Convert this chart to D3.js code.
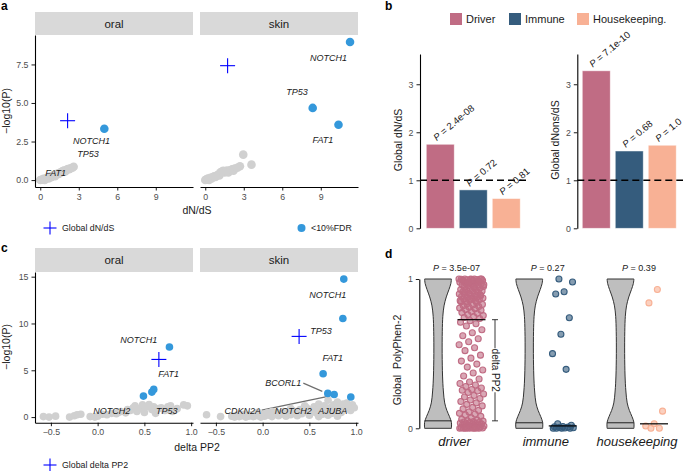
<!DOCTYPE html>
<html><head><meta charset="utf-8">
<script src="https://cdn.jsdelivr.net/npm/d3@7"></script>
<style>
body{margin:0;background:#fff;}
svg{display:block;}
</style></head><body>
<svg id="chart" width="685" height="471"></svg>
<script>
// ================= DATA =================
const facetNames = ["oral", "skin"];

// Panel a : dN/dS vs -log10(P)
const aTicksX = [0, 3, 6, 9];
const aTicksY = [0, 2.5, 5, 7.5];
const aGrayOral = [[0.0,0.0],[0.15,0.03],[0.25,0.08],[0.35,0.0],[0.45,0.12],[0.55,0.15],[0.65,0.1],[0.75,0.22],[0.85,0.18],[0.95,0.28],[1.05,0.32],[1.15,0.25],[1.25,0.38],[1.35,0.42],[1.45,0.4],[1.55,0.48],[1.65,0.52],[1.75,0.58],[1.85,0.62],[1.95,0.56],[2.05,0.66],[2.15,0.72],[2.25,0.7],[2.35,0.76],[2.5,0.8],[2.6,0.86]];
const aGraySkin = [[0.0,0.0],[0.1,0.05],[0.2,0.1],[0.3,0.0],[0.4,0.15],[0.5,0.1],[0.6,0.2],[0.7,0.25],[0.8,0.2],[0.9,0.3],[1.0,0.35],[1.1,0.3],[1.2,0.5],[1.3,0.55],[1.4,0.6],[1.5,0.5],[1.6,0.55],[1.7,0.62],[1.8,0.5],[1.9,0.6],[2.0,0.65],[2.1,0.7],[2.2,0.6],[2.3,0.75],[2.5,0.8],[2.7,0.9],[2.96,1.65],[3.6,1.0]];
const aSigOral = [[4.99,3.33]];
const aSigSkin = [[11.28,8.96],[8.37,4.68],[10.38,3.59]];
const aGlobalOral = [2.13,3.85];
const aGlobalSkin = [1.74,7.42];
const aLabelsOral = [["NOTCH1",4.0,2.53],["TP53",3.72,1.69],["FAT1",1.2,0.45]];
const aLabelsSkin = [["NOTCH1",9.61,7.94],["TP53",7.15,5.71],["FAT1",9.17,2.6]];

// Panel b : global dN/dS bars
const bGroups = ["Driver", "Immune", "Housekeeping."];
const bColors = ["#C06C84", "#355C7D", "#F8B195"];
const bTicksY = [0, 1, 2, 3];
const bDnds = [1.75, 0.80, 0.62];
const bDnons = [3.28, 1.61, 1.73];
const bPDnds = ["2.4e-08", "0.72", "0.81"];
const bPDnons = ["7.1e-10", "0.68", "1.0"];

// Panel c : delta PP2 vs -log10(P)
const cTicksX = [-0.5, 0, 0.5, 1.0];
const cTicksY = [0, 5, 10, 15];
const cGrayOral = [[-0.58,0.05],[-0.52,0.0],[-0.45,0.1],[-0.30,0.0],[-0.25,0.15],[-0.22,0.25],[-0.18,0.3],[-0.08,0.05],[-0.03,0.0],[0.0,0.1],[0.05,0.3],[0.1,0.25],[0.15,0.4],[0.2,0.35],[0.22,0.5],[0.25,0.6],[0.3,0.45],[0.32,0.8],[0.35,0.7],[0.38,1.0],[0.4,1.2],[0.42,0.6],[0.45,0.9],[0.48,1.3],[0.5,0.5],[0.52,1.1],[0.55,1.35],[0.58,0.8],[0.6,1.1],[0.62,0.4],[0.65,0.9],[0.68,1.0],[0.72,0.7],[0.75,1.1],[0.78,1.2],[0.8,0.6],[0.85,0.9],[0.92,1.3],[0.96,1.2]];
const cGraySkin = [[-0.60,0.25],[-0.45,0.05],[-0.33,0.1],[-0.3,0.0],[-0.28,0.2],[-0.25,0.05],[-0.22,0.15],[-0.2,0.3],[-0.18,0.0],[-0.15,0.1],[-0.12,0.25],[-0.1,0.05],[-0.08,0.35],[-0.05,0.15],[-0.02,0.0],[0.0,0.3],[0.02,0.1],[0.05,0.45],[0.07,0.2],[0.1,0.05],[0.12,0.35],[0.15,0.5],[0.17,0.15],[0.2,0.3],[0.22,0.6],[0.25,0.1],[0.27,0.45],[0.3,0.25],[0.32,0.7],[0.35,0.5],[0.37,0.15],[0.4,0.8],[0.42,0.35],[0.45,0.6],[0.47,1.0],[0.5,0.2],[0.52,0.75],[0.55,1.1],[0.57,0.45],[0.6,1.4],[0.62,0.9],[0.64,0.3],[0.66,1.2],[0.68,0.6],[0.7,1.8],[0.72,1.0],[0.74,0.4],[0.76,1.3],[0.78,0.8],[0.8,1.6],[0.82,1.1],[0.84,0.5],[0.86,1.4],[0.88,0.9],[0.9,1.5],[0.92,1.2],[0.94,0.7],[0.96,1.3],[0.98,1.0],[0.3,0.9],[0.1,0.6],[-0.05,0.5],[0.45,1.2],[0.6,0.05],[0.8,0.1],[0.7,0.2]];
const cSigOral = [[0.768,7.48],[0.49,2.24],[0.58,2.67],[0.6,2.96]];
const cSigSkin = [[0.868,14.74],[0.858,10.54],[0.647,4.63],[0.697,2.53],[0.765,2.42],[0.943,2.14]];
const cGlobalOral = [0.655,6.16];
const cGlobalSkin = [0.39,8.62];
const cLabelsOral = [["NOTCH1",0.44,8.23],["FAT1",0.76,4.6],["NOTCH2",0.15,0.67],["TP53",0.74,0.67]];
const cLabelsSkin = [["NOTCH1",0.696,13.03],["TP53",0.625,9.19],["FAT1",0.75,6.34],["BCORL1",0.221,3.63],["CDKN2A",-0.213,0.67],["NOTCH2",0.328,0.67],["AJUBA",0.75,0.67]];
const cSegsSkin = [[0.435,3.63,0.638,2.75],[-0.01,0.75,0.713,2.24]];

// Panel d : Global PolyPhen-2
const dGroups = ["driver", "immune", "housekeeping"];
const dPvals = ["3.5e-07", "0.27", "0.39"];
const dViolin = [[0,1],[0.04,1],[0.08,0.85],[0.12,0.66],[0.17,0.5],[0.25,0.4],[0.35,0.34],[0.5,0.31],[0.65,0.32],[0.75,0.36],[0.82,0.45],[0.88,0.62],[0.93,0.82],[0.97,0.96],[1,1]];
const dViolinLine = [0.05, 0.037, 0.037];
const dDriver = [1.0,1.0,1.0,1.0,0.999,0.998,0.997,0.995,0.99,0.99,0.988,0.985,0.98,0.978,0.975,0.97,0.968,0.965,0.96,0.958,0.955,0.95,0.948,0.945,0.94,0.935,0.93,0.928,0.925,0.92,0.918,0.915,0.91,0.905,0.9,0.898,0.895,0.89,0.887,0.883,0.88,0.877,0.873,0.87,0.866,0.862,0.858,0.855,0.852,0.85,1.0,0.996,0.992,0.986,0.976,0.962,0.943,0.912,0.893,0.868,
  0.848,0.842,0.835,0.83,0.826,0.82,0.815,0.81,0.805,0.8,0.795,0.79,0.782,0.776,0.77,0.762,0.755,0.748,0.742,0.735,
  0.72,0.71,0.7,0.685,0.66,0.64,0.62,0.6,0.58,0.56,0.54,0.52,
  0.49,0.47,0.45,0.43,0.41,0.39,0.37,0.35,0.33,0.31,
  0.3,0.29,0.28,0.27,0.26,0.255,0.25,0.24,0.23,0.22,0.21,0.2,0.19,0.18,0.17,0.16,0.15,0.14,0.13,0.12,0.11,0.1,0.095,0.09,0.08,0.07,0.06,0.055,
  0.05,0.048,0.045,0.042,0.04,0.038,0.035,0.032,0.03,0.028,0.025,0.022,0.02,0.018,0.015,0.012,0.01,0.008,0.006,0.005,0.004,0.003,0.002,0.001,0,0,0,0,0,0];
const dImmune = [1.0,0.98,0.915,0.90,0.74,0.63,0.50,0.395,0.03,0.02,0.012,0.01,0.008,0.006,0.004,0.002,0,0,0,0];
const dHousekeeping = [0.93,0.84,0.115,0.03,0.015,0.0,0.0];

// ================= DRAW =================
const FONT = '"Liberation Sans", Arial, Helvetica, sans-serif';
const svg = d3.select("#chart").attr("font-family", FONT);
svg.append("rect").attr("width", 685).attr("height", 471).attr("fill", "#fff");

function styleAxis(g, fs) {
  g.attr("font-family", FONT).attr("font-size", fs || 8.8);
  g.select(".domain").attr("stroke", "#000").attr("stroke-width", 1.1);
  g.selectAll(".tick line").attr("stroke", "#000").attr("stroke-width", 0.9);
  g.selectAll(".tick text").attr("fill", "#4d4d4d");
}
function cross(g, cx, cy, s) {
  g.append("line").attr("x1", cx - s).attr("x2", cx + s).attr("y1", cy).attr("y2", cy).attr("stroke", "#0000ff").attr("stroke-width", 1.1);
  g.append("line").attr("x1", cx).attr("x2", cx).attr("y1", cy - s).attr("y2", cy + s).attr("stroke", "#0000ff").attr("stroke-width", 1.1);
}

function facet(cfg) {
  const x = d3.scaleLinear().domain(cfg.xDomain).range([cfg.left, cfg.right]);
  const y = cfg.y;
  const bottom = y.range()[0];
  const g = svg.append("g");
  g.append("rect").attr("x", cfg.left).attr("y", cfg.stripTop).attr("width", cfg.right - cfg.left)
    .attr("height", cfg.stripH).attr("fill", "#d9d9d9");
  g.append("text").attr("x", (cfg.left + cfg.right) / 2).attr("y", cfg.stripTop + cfg.stripH / 2)
    .attr("dy", "0.36em").attr("text-anchor", "middle").attr("font-size", 11.5).attr("fill", "#1a1a1a").text(cfg.name);
  (cfg.segs || []).forEach(s => {
    g.append("line").attr("x1", x(s[0])).attr("y1", y(s[1])).attr("x2", x(s[2])).attr("y2", y(s[3]))
      .attr("stroke", "#6e6e6e").attr("stroke-width", 1.2);
  });
  g.selectAll(null).data(cfg.gray).join("circle").attr("cx", d => x(d[0])).attr("cy", d => y(d[1]))
    .attr("r", cfg.r).attr("fill", "#d0d0d0");
  g.selectAll(null).data(cfg.sig).join("circle").attr("cx", d => x(d[0])).attr("cy", d => y(d[1]))
    .attr("r", cfg.r).attr("fill", "#3498db");
  cross(g, x(cfg.glob[0]), y(cfg.glob[1]), 7.5);
  g.selectAll(null).data(cfg.labels).join("text").attr("x", d => x(d[1])).attr("y", d => y(d[2]))
    .attr("dy", "0.35em").attr("text-anchor", "middle").attr("font-size", 9).attr("font-style", "italic")
    .attr("fill", "#1a1a1a").text(d => d[0]);
  const ax = g.append("g").attr("transform", `translate(0,${bottom})`)
    .call(d3.axisBottom(x).tickValues(cfg.xTicks).tickFormat(cfg.xFmt).tickSize(3.5).tickSizeOuter(0));
  styleAxis(ax);
  if (cfg.showY) {
    const ay = g.append("g").attr("transform", `translate(${cfg.left},0)`)
      .call(d3.axisLeft(y).tickValues(cfg.yTicks).tickFormat(cfg.yFmt).tickSize(3.5).tickSizeOuter(0));
    styleAxis(ay);
  }
}

// ---- Panel a ----
const aY = d3.scaleLinear().domain([-0.45, 9.41]).range([187, 35]);
const aXDom = [-0.41, 11.9];
const aFmtX = d3.format("d"), aFmtY = d3.format(".1f");
facet({name: facetNames[0], left: 35, right: 193, stripTop: 12, stripH: 23, y: aY, xDomain: aXDom, xTicks: aTicksX, xFmt: aFmtX,
  showY: true, yTicks: aTicksY, yFmt: aFmtY, gray: aGrayOral, sig: aSigOral, glob: aGlobalOral, labels: aLabelsOral, r: 4.3});
facet({name: facetNames[1], left: 200, right: 358, stripTop: 12, stripH: 23, y: aY, xDomain: aXDom, xTicks: aTicksX, xFmt: aFmtX,
  showY: false, gray: aGraySkin, sig: aSigSkin, glob: aGlobalSkin, labels: aLabelsSkin, r: 4.3});
svg.append("text").attr("transform", "translate(9.5,111) rotate(-90)").attr("text-anchor", "middle")
  .attr("font-size", 10.5).attr("fill", "#1a1a1a").text("\u2212log10(P)");
svg.append("text").attr("x", 197).attr("y", 214).attr("text-anchor", "middle").attr("font-size", 10.5).attr("fill", "#1a1a1a").text("dN/dS");
cross(svg, 50, 228, 6.5);
svg.append("text").attr("x", 62).attr("y", 228).attr("dy", "0.35em").attr("font-size", 8.8).attr("fill", "#1a1a1a").text("Global dN/dS");
svg.append("circle").attr("cx", 301.5).attr("cy", 228).attr("r", 4).attr("fill", "#3498db");
svg.append("text").attr("x", 311).attr("y", 228).attr("dy", "0.35em").attr("font-size", 8.8).attr("fill", "#1a1a1a").text("<10%FDR");

// ---- Panel c ----
const cY = d3.scaleLinear().domain([-0.6, 15.5]).range([422.7, 272]);
const cXDom = [-0.67, 1.02];
const cFmtX = d3.format(".1f"), cFmtY = d3.format("d");
facet({name: facetNames[0], left: 35, right: 193, stripTop: 248, stripH: 24, y: cY, xDomain: cXDom, xTicks: cTicksX, xFmt: cFmtX,
  showY: true, yTicks: cTicksY, yFmt: cFmtY, gray: cGrayOral, sig: cSigOral, glob: cGlobalOral, labels: cLabelsOral, r: 3.8});
facet({name: facetNames[1], left: 200, right: 358, stripTop: 248, stripH: 24, y: cY, xDomain: cXDom, xTicks: cTicksX, xFmt: cFmtX,
  showY: false, gray: cGraySkin, sig: cSigSkin, glob: cGlobalSkin, labels: cLabelsSkin, segs: cSegsSkin, r: 3.8});
svg.append("text").attr("transform", "translate(9.5,347) rotate(-90)").attr("text-anchor", "middle")
  .attr("font-size", 10.5).attr("fill", "#1a1a1a").text("\u2212log10(P)");
svg.append("text").attr("x", 197).attr("y", 451).attr("text-anchor", "middle").attr("font-size", 10.5).attr("fill", "#1a1a1a").text("delta PP2");
cross(svg, 50, 465, 6.5);
svg.append("text").attr("x", 62).attr("y", 465).attr("dy", "0.35em").attr("font-size", 8.8).attr("fill", "#1a1a1a").text("Global delta PP2");

// ---- Panel b ----
const bY = d3.scaleLinear().domain([0, 3.63]).range([228.3, 54]);
function barPanel(vals, pvals, axisX, r0, r1, title) {
  const x = d3.scaleBand().domain(bGroups).range([r0, r1]).paddingInner(0.152).paddingOuter(0.084);
  const g = svg.append("g");
  g.selectAll(null).data(bGroups).join("rect").attr("x", d => x(d)).attr("width", x.bandwidth())
    .attr("y", (d, i) => bY(vals[i])).attr("height", (d, i) => bY(0) - bY(vals[i]))
    .attr("fill", (d, i) => bColors[i]).attr("stroke", "#ffffff").attr("stroke-opacity", 0.6).attr("stroke-width", 0.8);
  g.append("line").attr("x1", axisX).attr("x2", r1 + 4).attr("y1", bY(1)).attr("y2", bY(1))
    .attr("stroke", "#000").attr("stroke-width", 1.5).attr("stroke-dasharray", "7,4");
  bGroups.forEach((d, i) => {
    const t = g.append("text").attr("transform", `translate(${x(d) + x.bandwidth() / 2 - 3.5},${bY(vals[i]) - 3}) rotate(-40)`)
      .attr("font-size", 9.6).attr("fill", "#1a1a1a");
    t.append("tspan").attr("font-style", "italic").text("P");
    t.append("tspan").text(" = " + pvals[i]);
  });
  const ay = g.append("g").attr("transform", `translate(${axisX},0)`)
    .call(d3.axisLeft(bY).tickValues(bTicksY).tickFormat(d3.format("d")).tickSize(3.5).tickSizeOuter(0));
  styleAxis(ay);
  g.append("text").attr("transform", `translate(${axisX - 18},140) rotate(-90)`).attr("text-anchor", "middle")
    .attr("font-size", 10.5).attr("fill", "#1a1a1a").text(title);
}
barPanel(bDnds, bPDnds, 420, 423.5, 523, "Global dN/dS");
barPanel(bDnons, bPDnons, 577.3, 579.5, 679, "Global dNons/dS");
// legend
const legX = [450, 509, 577];
bGroups.forEach((d, i) => {
  svg.append("rect").attr("x", legX[i]).attr("y", 13).attr("width", 12).attr("height", 12).attr("fill", bColors[i]);
  svg.append("text").attr("x", legX[i] + 16).attr("y", 19).attr("dy", "0.36em").attr("font-size", 11).attr("fill", "#1a1a1a").text(d);
});

// ---- Panel d ----
const dY = d3.scaleLinear().domain([0, 1]).range([428.3, 279]);
const dX = d3.scalePoint().domain(dGroups).range([454.5, 637]);
const dPts = [dDriver, dImmune, dHousekeeping];
const vHW = 13.4;
const jit = i => ((i * 0.6180339887) % 1) * 2 - 1;
dGroups.forEach((grp, gi) => {
  const cx = dX(grp);
  const vx = cx - 16.5, px = cx + 17;
  const area = d3.area().y(d => dY(d[0])).x0(d => vx - d[1] * vHW).x1(d => vx + d[1] * vHW).curve(d3.curveCatmullRom);
  svg.append("path").attr("d", area(dViolin)).attr("fill", "#bebebe").attr("stroke", "#333").attr("stroke-width", 1);
  svg.append("line").attr("x1", vx - vHW).attr("x2", vx + vHW).attr("y1", dY(dViolinLine[gi])).attr("y2", dY(dViolinLine[gi]))
    .attr("stroke", "#222").attr("stroke-width", 1);
  const col = bColors[gi];
  svg.selectAll(null).data(dPts[gi]).join("circle")
    .attr("cx", (d, i) => px + jit(i + gi * 7) * (gi === 0 ? 12.5 : 11))
    .attr("cy", d => dY(d)).attr("r", 3)
    .attr("fill", col).attr("fill-opacity", 0.6).attr("stroke", col).attr("stroke-width", 1.1);
  const med = d3.median(dPts[gi]);
  svg.append("line").attr("x1", px - 14).attr("x2", px + 14).attr("y1", dY(med)).attr("y2", dY(med))
    .attr("stroke", "#000").attr("stroke-width", 1.2);
  const t = svg.append("text").attr("x", cx + 2).attr("y", 268).attr("dy", "0.35em").attr("text-anchor", "middle")
    .attr("font-size", 9).attr("fill", "#1a1a1a");
  t.append("tspan").attr("font-style", "italic").text("P");
  t.append("tspan").text(" = " + dPvals[gi]);
  svg.append("text").attr("x", cx).attr("y", 446).attr("text-anchor", "middle").attr("font-size", 13)
    .attr("font-style", "italic").attr("fill", "#1a1a1a").text(grp);
});
// delta PP2 bracket
{
  const bx = dX(dGroups[0]) + 40.5;
  const yTop = dY(d3.median(dDriver)), yBot = dY(dViolinLine[0]);
  const ym = (yTop + yBot) / 2;
  svg.append("line").attr("x1", bx).attr("x2", bx).attr("y1", yTop).attr("y2", ym - 22).attr("stroke", "#222").attr("stroke-width", 0.9);
  svg.append("line").attr("x1", bx).attr("x2", bx).attr("y1", ym + 22).attr("y2", yBot).attr("stroke", "#222").attr("stroke-width", 0.9);
  [yTop, yBot].forEach(yy => svg.append("line").attr("x1", bx - 3).attr("x2", bx + 3).attr("y1", yy).attr("y2", yy).attr("stroke", "#222").attr("stroke-width", 0.9));
  svg.append("text").attr("transform", `translate(${bx},${ym}) rotate(90)`).attr("text-anchor", "middle").attr("dy", "0.35em")
    .attr("font-size", 10).attr("fill", "#1a1a1a").text("delta PP2");
}
const ayd = svg.append("g").attr("transform", "translate(419.3,0)")
  .call(d3.axisLeft(dY).tickValues([0, 1]).tickFormat(d3.format("d")).tickSize(3.5).tickSizeOuter(0));
styleAxis(ayd);
svg.append("text").attr("transform", "translate(401,360) rotate(-90)").attr("text-anchor", "middle")
  .attr("font-size", 10.5).attr("fill", "#1a1a1a").style("white-space", "pre").text("Global\u00a0 PolyPhen-2");

// ---- panel letters ----
[["a", 1, 10], ["b", 385, 10], ["c", 1, 252], ["d", 385, 258]].forEach(l => {
  svg.append("text").attr("x", l[1]).attr("y", l[2]).attr("font-size", 12).attr("font-weight", "bold").attr("fill", "#000").text(l[0]);
});
</script>
</body></html>
